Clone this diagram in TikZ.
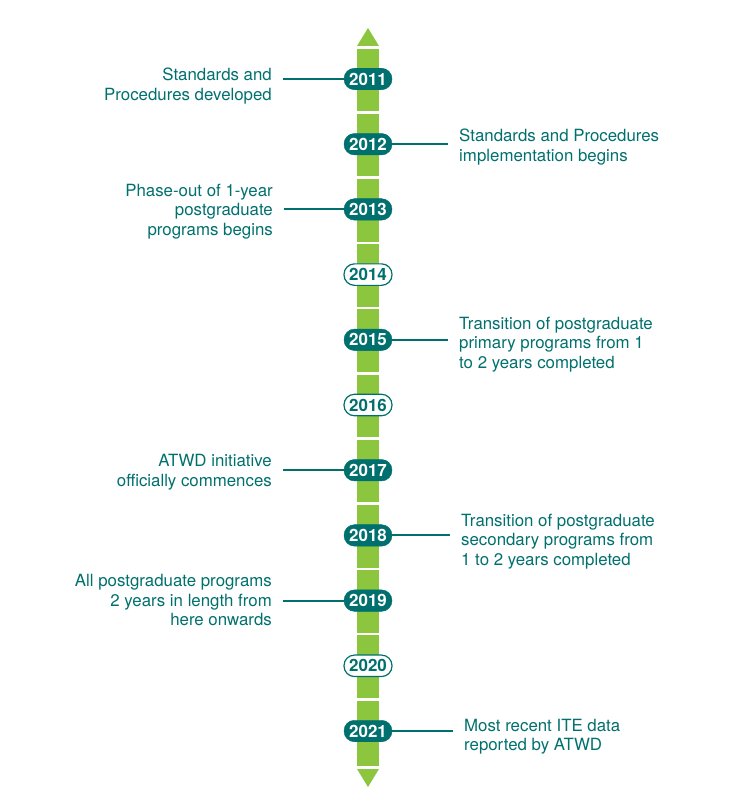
\documentclass[tikz,border=0pt]{standalone}
\usepackage{fontspec}
\setmainfont{TeX Gyre Heros}
\usepackage{tikz}
\usetikzlibrary{positioning}
\definecolor{atwdTeal}{RGB}{0,112,110}
\definecolor{atwdGreen}{RGB}{140,198,63}
\tikzstyle{yearNode} = [rectangle, rounded corners=10.5bp, minimum width=48bp, minimum height=21.5bp, inner sep=0pt, fill=atwdTeal, draw=atwdTeal, text=white, font=\fontsize{17}{18}\selectfont\bfseries]
\tikzstyle{yearOpen} = [yearNode, fill=white, text=atwdTeal, line width=1.2bp]
\tikzstyle{noteLeft} = [anchor=north east, align=right, inner sep=0pt, text=atwdTeal, font=\fontsize{16.9}{19.8}\selectfont]
\tikzstyle{noteRight} = [noteLeft, anchor=north west, align=left]
\tikzstyle{link} = [draw=atwdTeal, line width=2bp]
\tikzstyle{gapLine} = [white, line width=2.6bp]

\begin{document}
\begin{tikzpicture}[x=1bp, y=1bp, node distance=65.2bp]
\useasboundingbox (0,0) rectangle (736,-802);
% green bar with arrow ends
\fill[atwdGreen] (357,-49) rectangle (379,-766);
\fill[atwdGreen] (368,-28) -- (379,-46) -- (357,-46) -- cycle;
\fill[atwdGreen] (357,-769) -- (379,-769) -- (368,-787) -- cycle;
\foreach \i in {0,...,9}
    \draw[gapLine] (357,{-112.5-65.2*\i}) -- (379,{-112.5-65.2*\i});

% years
\node (y2011) [yearNode] at (368,-79) {2011};
\node (y2012) [yearNode, below of = y2011] {2012};
\node (y2013) [yearNode, below of = y2012] {2013};
\node (y2014) [yearOpen, below of = y2013] {2014};
\node (y2015) [yearNode, below of = y2014] {2015};
\node (y2016) [yearOpen, below of = y2015] {2016};
\node (y2017) [yearNode, below of = y2016] {2017};
\node (y2018) [yearNode, below of = y2017] {2018};
\node (y2019) [yearNode, below of = y2018] {2019};
\node (y2020) [yearOpen, below of = y2019] {2020};
\node (y2021) [yearNode, below of = y2020] {2021};

% notes
\node (n2011) [noteLeft] at (272,-68) {Standards and\\Procedures developed};
\node (n2012) [noteRight] at (459,-129) {Standards and Procedures\\implementation begins};
\node (n2013) [noteLeft] at (273,-183.7) {Phase-out of 1-year\\postgraduate\\programs begins};
\node (n2015) [noteRight] at (459,-316.5) {Transition of postgraduate\\primary programs from 1\\to 2 years completed};
\node (n2017) [noteLeft] at (272,-454) {ATWD initiative\\officially commences};
\node (n2018) [noteRight] at (461,-513.7) {Transition of postgraduate\\secondary programs from\\1 to 2 years completed};
\node (n2019) [noteLeft] at (272,-574) {All postgraduate programs\\2 years in length from\\here onwards};
\node (n2021) [noteRight] at (464,-718.7) {Most recent ITE data\\reported by ATWD};

\draw [link, shorten >=11bp] (y2011.west) -- (y2011.west -| n2011.east);
\draw [link, shorten >=11bp] (y2012.east) -- (y2012.east -| n2012.west);
\draw [link, shorten >=11bp] (y2013.west) -- (y2013.west -| n2013.east);
\draw [link, shorten >=11bp] (y2015.east) -- (y2015.east -| n2015.west);
\draw [link, shorten >=11bp] (y2017.west) -- (y2017.west -| n2017.east);
\draw [link, shorten >=11bp] (y2018.east) -- (y2018.east -| n2018.west);
\draw [link, shorten >=11bp] (y2019.west) -- (y2019.west -| n2019.east);
\draw [link, shorten >=11bp] (y2021.east) -- (y2021.east -| n2021.west);
\end{tikzpicture}
\end{document}
